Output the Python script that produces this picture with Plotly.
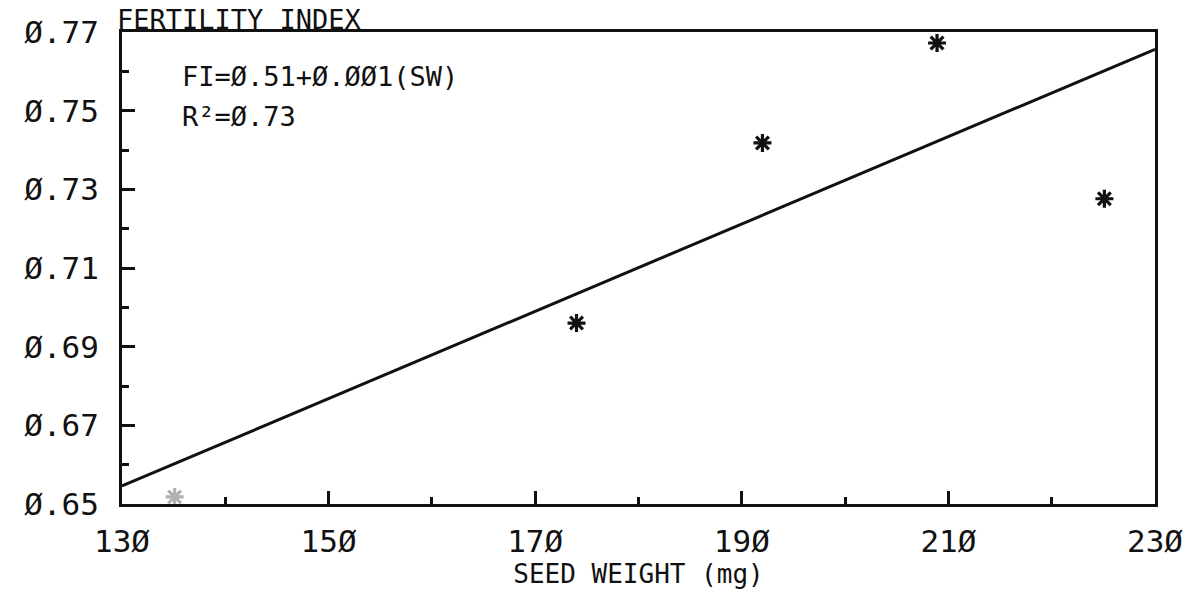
import plotly.graph_objects as go

# Seed weight (mg) vs fertility index observations
seed_weight = [135.1, 174.0, 192.0, 208.9, 225.1]
fertility_index = [0.6518, 0.6960, 0.7418, 0.7672, 0.7276]
point_colors = ["#b0b0b0", "#111111", "#111111", "#111111", "#111111"]

# Regression line FI = 0.51 + 0.001(SW), evaluated at the axis ends
fit_x = [130, 230]
fit_y = [0.6546, 0.7656]

x_tick_vals = [130, 150, 170, 190, 210, 230]
x_tick_text = ["13Ø", "15Ø", "17Ø", "19Ø", "21Ø", "23Ø"]
y_tick_vals = [0.65, 0.67, 0.69, 0.71, 0.73, 0.75, 0.77]
y_tick_text = ["Ø.65", "Ø.67", "Ø.69", "Ø.71", "Ø.73", "Ø.75", "Ø.77"]

FONT = "DejaVu Sans Mono"
INK = "#111111"

fig = go.Figure()

fig.add_trace(go.Scatter(
    x=fit_x, y=fit_y, mode="lines",
    line=dict(color=INK, width=3),
    showlegend=False, hoverinfo="skip",
))

fig.add_trace(go.Scatter(
    x=seed_weight, y=fertility_index, mode="markers",
    marker=dict(symbol="asterisk", size=15,
                line=dict(color=point_colors, width=3.2)),
    showlegend=False,
))

fig.update_xaxes(
    range=[130, 230],
    tickvals=x_tick_vals, ticktext=x_tick_text,
    ticks="inside", ticklen=13, tickwidth=2.5, tickcolor=INK,
    minor=dict(dtick=10, tick0=130, ticks="inside", ticklen=7,
               tickwidth=2.5, tickcolor=INK),
    showline=True, linewidth=3, linecolor=INK, mirror=True,
    showgrid=False, zeroline=False,
    tickfont=dict(family=FONT, size=31, color=INK),
    ticklabelstandoff=8,
    title=dict(text="SEED WEIGHT (mg)",
               font=dict(family=FONT, size=26, color=INK), standoff=4),
)

fig.update_yaxes(
    range=[0.65, 0.77],
    tickvals=y_tick_vals, ticktext=y_tick_text,
    ticks="inside", ticklen=13, tickwidth=2.5, tickcolor=INK,
    minor=dict(dtick=0.01, tick0=0.65, ticks="inside", ticklen=7,
               tickwidth=2.5, tickcolor=INK),
    showline=True, linewidth=3, linecolor=INK, mirror=True,
    showgrid=False, zeroline=False,
    tickfont=dict(family=FONT, size=31, color=INK),
    ticklabelstandoff=14,
)

fig.add_annotation(
    text="FERTILITY INDEX", xref="paper", yref="paper",
    x=-0.007, y=1, xanchor="left", yanchor="bottom", yshift=-5,
    showarrow=False, font=dict(family=FONT, size=27, color=INK),
)
fig.add_annotation(
    text="FI=Ø.51+Ø.ØØ1(SW)", xref="paper", yref="paper",
    x=0.056, y=0.905, xanchor="left", yanchor="middle",
    showarrow=False, font=dict(family=FONT, size=27, color=INK),
)
fig.add_annotation(
    text="R²=Ø.73", xref="paper", yref="paper",
    x=0.056, y=0.822, xanchor="left", yanchor="middle",
    showarrow=False, font=dict(family=FONT, size=27, color=INK),
)

fig.update_layout(
    width=1195, height=595,
    margin=dict(l=122, r=40, t=32, b=91),
    paper_bgcolor="white", plot_bgcolor="white",
)

fig.write_html("out.html")
